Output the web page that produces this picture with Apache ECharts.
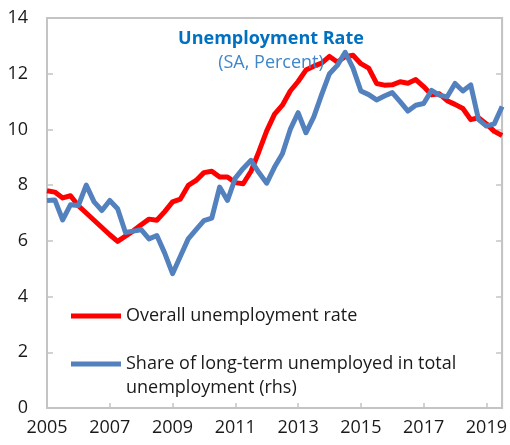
<!DOCTYPE html>
<html>
<head>
<meta charset="utf-8">
<script src="https://cdn.jsdelivr.net/npm/echarts@6/dist/echarts.min.js"></script>
<style>html,body{margin:0;padding:0;background:#fff}#c{width:510px;height:445px}</style>
</head>
<body>
<div id="c"></div>
<script>
// Quarterly observations, 2005Q1 - 2019Q3
var quarters = [
  "2005Q1","2005Q2","2005Q3","2005Q4","2006Q1","2006Q2","2006Q3","2006Q4",
  "2007Q1","2007Q2","2007Q3","2007Q4","2008Q1","2008Q2","2008Q3","2008Q4",
  "2009Q1","2009Q2","2009Q3","2009Q4","2010Q1","2010Q2","2010Q3","2010Q4",
  "2011Q1","2011Q2","2011Q3","2011Q4","2012Q1","2012Q2","2012Q3","2012Q4",
  "2013Q1","2013Q2","2013Q3","2013Q4","2014Q1","2014Q2","2014Q3","2014Q4",
  "2015Q1","2015Q2","2015Q3","2015Q4","2016Q1","2016Q2","2016Q3","2016Q4",
  "2017Q1","2017Q2","2017Q3","2017Q4","2018Q1","2018Q2","2018Q3","2018Q4",
  "2019Q1","2019Q2","2019Q3"
];
var overallRate = [
  7.80,7.75,7.54,7.62,7.26,7.00,6.74,6.48,
  6.22,5.98,6.17,6.36,6.58,6.78,6.74,7.05,
  7.40,7.50,7.99,8.17,8.45,8.50,8.29,8.29,
  8.09,8.05,8.50,9.20,9.95,10.55,10.87,11.38,
  11.72,12.13,12.27,12.38,12.62,12.42,12.61,12.66,
  12.36,12.20,11.65,11.59,11.60,11.71,11.66,11.79,
  11.54,11.24,11.28,11.03,10.90,10.75,10.35,10.42,
  10.20,9.93,9.78
];
var longTermShare = [
  7.45,7.47,6.75,7.30,7.27,8.00,7.40,7.09,
  7.45,7.15,6.30,6.35,6.40,6.07,6.19,5.56,
  4.82,5.45,6.07,6.40,6.73,6.82,7.93,7.45,
  8.25,8.60,8.89,8.45,8.07,8.65,9.13,10.00,
  10.60,9.88,10.45,11.25,12.00,12.30,12.77,12.20,
  11.38,11.25,11.06,11.20,11.32,11.00,10.66,10.87,
  10.93,11.40,11.23,11.17,11.65,11.38,11.60,10.35,
  10.12,10.20,10.82
];
var seriesNames = ["Overall unemployment rate", "Share of long-term unemployed in total unemployment (rhs)"];
var legendLines2 = ["Share of long-term unemployed in total", "unemployment (rhs)"];
var titleText = "Unemployment Rate";
var subTitleText = "(SA, Percent)";

function qToX(q) { return parseInt(q.slice(0,4),10) + (parseInt(q.slice(5),10) - 1) / 4; }
function pairs(vals) { return quarters.map(function(q, i){ return [qToX(q), vals[i]]; }); }

var FONT = "Open Sans";
var FS = 18;
var AXIS = "#C4C4C4";
var chart = echarts.init(document.getElementById('c'), null, {renderer: 'canvas'});
chart.setOption({
  animation: false,
  backgroundColor: '#fff',
  title: [
    {text: titleText, left: 271, top: 30, padding: 0, textAlign: 'center',
     textStyle: {fontFamily: FONT, fontSize: FS, fontWeight: 'bold', color: '#0070C0'}},
    {text: subTitleText, left: 271, top: 54, padding: 0, textAlign: 'center',
     textStyle: {fontFamily: FONT, fontSize: FS, fontWeight: 'normal', color: '#3F86CB'}}
  ],
  legend: [
    {data: [seriesNames[0]], left: 71, top: 304, padding: 0, orient: 'vertical',
     itemWidth: 50, itemHeight: 5, icon: 'rect',
     textStyle: {fontFamily: FONT, fontSize: FS, color: '#1a1a1a', lineHeight: 24}},
    {data: [seriesNames[1]], left: 71, top: 328, padding: 0, orient: 'vertical',
     itemWidth: 50, itemHeight: 5, icon: 'rect',
     formatter: function(){ return '\n' + legendLines2.join('\n'); },
     textStyle: {fontFamily: FONT, fontSize: FS, color: '#1a1a1a', lineHeight: 24}}
  ],
  grid: {left: 47, right: 6, top: 18, bottom: 37, show: true, borderColor: AXIS, borderWidth: 2, containLabel: false},
  xAxis: {
    type: 'value', min: 2005, max: 2019.5, interval: 2,
    axisLine: {show: true, lineStyle: {color: AXIS, width: 2}},
    axisTick: {show: true, inside: true, length: 5, lineStyle: {color: AXIS, width: 1.5}},
    axisLabel: {fontFamily: FONT, fontSize: FS, color: '#1a1a1a', margin: 11, showMaxLabel: false,
      formatter: function(v){ return (Math.abs(v - Math.round(v)) < 1e-6) ? String(Math.round(v)) : ''; }},
    splitLine: {show: false}
  },
  yAxis: [
    {type: 'value', min: 0, max: 14, interval: 2, position: 'left',
     axisLine: {show: true, lineStyle: {color: AXIS, width: 2}},
     axisTick: {show: true, inside: true, length: 6, lineStyle: {color: AXIS, width: 1.5}},
     axisLabel: {fontFamily: FONT, fontSize: FS, color: '#1a1a1a', margin: 19},
     splitLine: {show: false}},
    {type: 'value', min: 0, max: 14, interval: 2, position: 'right',
     axisLine: {show: true, lineStyle: {color: AXIS, width: 2}},
     axisTick: {show: true, inside: true, length: 6, lineStyle: {color: AXIS, width: 1.5}},
     axisLabel: {show: false},
     splitLine: {show: false}}
  ],
  series: [
    {name: seriesNames[0], type: 'line', yAxisIndex: 0, data: pairs(overallRate),
     showSymbol: false, symbol: 'none', color: '#FF0000',
     lineStyle: {color: '#FF0000', width: 5, join: 'round'}, z: 3},
    {name: seriesNames[1], type: 'line', yAxisIndex: 1, data: pairs(longTermShare),
     showSymbol: false, symbol: 'none', color: '#5381BE',
     lineStyle: {color: '#5381BE', width: 5, join: 'round'}, z: 4}
  ]
});
</script>
</body>
</html>
